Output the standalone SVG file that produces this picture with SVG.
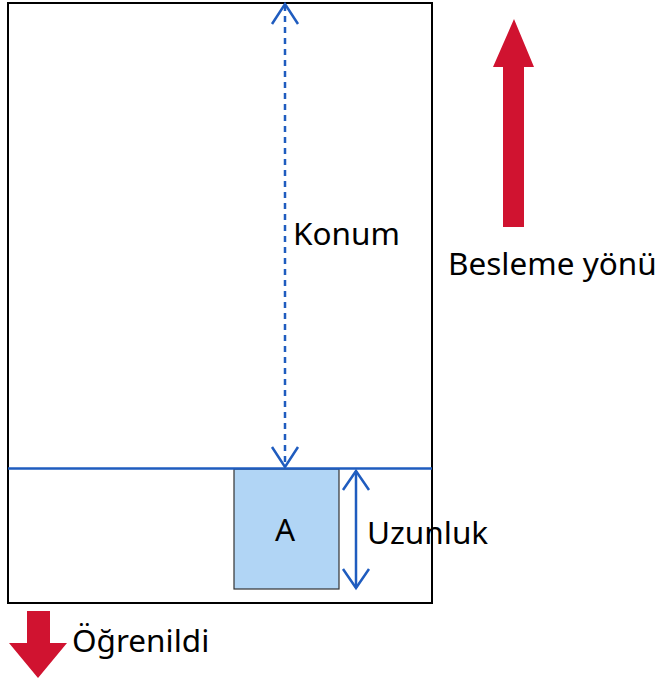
<svg xmlns="http://www.w3.org/2000/svg" width="656" height="682" viewBox="0 0 656 682">
<style>
.lbl{font-family:"Noto Sans","Open Sans","DejaVu Sans",sans-serif;font-size:31.5px;fill:#000}
.blue{stroke:#1f5cbf;stroke-width:2.5;fill:none}
.red{fill:#d01330}
</style>
<rect width="656" height="682" fill="#fff"/>
<g id="page">
<rect x="8" y="3" width="424" height="600" fill="none" stroke="#000" stroke-width="2"/>
</g>
<g id="nodeA">
<rect x="234" y="469" width="105" height="120" fill="#b1d5f5" stroke="#333" stroke-width="1.2"/>
<text class="lbl" x="285" y="541" text-anchor="middle">A</text>
</g>
<g id="connectors">
<line class="blue" x1="8" y1="468.5" x2="432" y2="468.5"/>
<line class="blue" x1="285" y1="5" x2="285" y2="466" stroke-dasharray="6,5" stroke-width="3"/>
<polyline class="blue" points="272,24 285,4 298,24"/>
<polyline class="blue" points="272,447 285,467 298,447"/>
<line class="blue" x1="356" y1="471" x2="356" y2="588"/>
<polyline class="blue" points="343,490 356,471 369,490"/>
<polyline class="blue" points="343,569 356,588 369,569"/>
</g>
<g id="feed">
<polygon class="red" points="514,19 534,67 524,67 524,227 503,227 503,67 493,67"/>
<text class="lbl" x="448" y="275">Besleme yönü</text>
</g>
<g id="learned">
<polygon class="red" points="27,611 50,611 50,643 67,643 38,678 9,643 27,643"/>
<text class="lbl" x="72" y="652">Öğrenildi</text>
</g>
<g id="labels">
<text class="lbl" x="293" y="245">Konum</text>
<text class="lbl" x="367" y="544">Uzunluk</text>
</g>
</svg>
